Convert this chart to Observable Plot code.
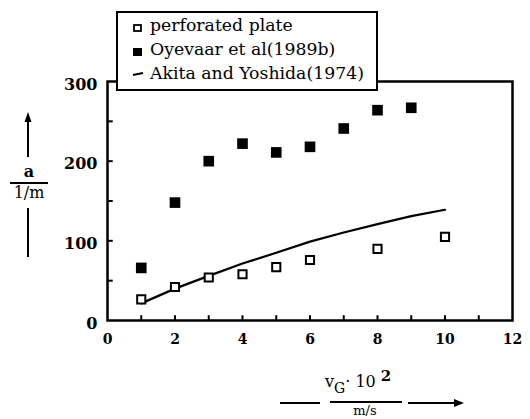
<!DOCTYPE html>
<html><head><meta charset="utf-8">
<script src="https://cdn.jsdelivr.net/npm/d3@7"></script>
<script src="https://cdn.jsdelivr.net/npm/@observablehq/plot@0.6"></script>
<style>
body{margin:0;background:#fff;}
#c{position:relative;width:530px;height:419px;}
</style></head><body><div id="c"></div>
<script>
const plateX = [1, 2, 3, 4, 5, 6, 8, 10];
const plateY = [26.5, 42, 54, 58, 67, 76, 90, 105];
const oyeX = [1, 2, 3, 4, 5, 6, 7, 8, 9];
const oyeY = [66, 148, 200, 222, 211, 218, 241, 264, 267];
const akitaX = [1, 2, 3, 4, 5, 6, 7, 8, 9, 10];
const akitaY = [21.5, 40, 56, 71.5, 85, 99, 110.5, 121, 131, 139];
const xTickLabels = [0, 2, 4, 6, 8, 10, 12];
const yTickLabels = [0, 100, 200, 300];
const xMinor = [1,2,3,4,5,6,7,8,9,10,11];
const yMinor = [50,100,150,200,250];
const legendLabels = ["perforated plate", "Oyevaar et al(1989b)", "Akita and Yoshida(1974)"];

const plate = plateX.map((x,i)=>({x, y: plateY[i]}));
const oye = oyeX.map((x,i)=>({x, y: oyeY[i]}));
const akita = akitaX.map((x,i)=>({x, y: akitaY[i]}));

const font = "DejaVu Serif, Liberation Serif, serif";
const chart = Plot.plot({
  width: 530, height: 419,
  marginLeft: 107, marginRight: 18, marginTop: 81, marginBottom: 99,
  style: {fontFamily: font, fontSize: "16px", fontWeight: "bold", background: "#fff", color: "#000"},
  x: {domain: [0, 12]},
  y: {domain: [0, 300]},
  marks: [
    Plot.ruleX(xMinor, {x: d => d, y1: 0, y2: 6, stroke: "#000", strokeWidth: 2}),
    Plot.ruleY(yMinor, {y: d => d, x1: 0, x2: 0.17, stroke: "#000", strokeWidth: 2}),
    Plot.axisX(xTickLabels, {tickSize: 0, tickPadding: 14, fontSize: 14, fontWeight: "bold"}),
    Plot.axisY(yTickLabels, {tickSize: 0, tickPadding: 10, fontSize: 16, fontWeight: "bold", dy: 3}),
    Plot.frame({stroke: "#000", strokeWidth: 2.5}),
    Plot.line(akita, {x: "x", y: "y", stroke: "#000", strokeWidth: 2.2}),
    Plot.dot(oye, {x: "x", y: "y", symbol: "square", r: 6, fill: "#000", stroke: "none"}),
    Plot.dot(plate, {x: "x", y: "y", symbol: "square", r: 4.6, fill: "#fff", stroke: "#000", strokeWidth: 2})
  ]
});
chart.querySelectorAll('[aria-label="x-axis label"],[aria-label="y-axis label"]').forEach(e=>e.remove());
document.getElementById("c").appendChild(chart);

const svg = d3.select(chart);
// legend
const lg = svg.append("g").attr("font-family", font).attr("font-size", 17.3).attr("font-weight", "normal").attr("text-anchor", "start");
lg.append("rect").attr("x", 117).attr("y", 12).attr("width", 260).attr("height", 78)
  .attr("fill", "#fff").attr("stroke", "#000").attr("stroke-width", 2);
const rows = [31, 55, 79];
lg.append("rect").attr("x", 134).attr("y", 25).attr("width", 7).attr("height", 6)
  .attr("fill", "#fff").attr("stroke", "#000").attr("stroke-width", 1.8);
lg.append("rect").attr("x", 133).attr("y", 48).attr("width", 9).attr("height", 8).attr("fill", "#000");
lg.append("line").attr("x1", 133).attr("x2", 143).attr("y1", 75).attr("y2", 73)
  .attr("stroke", "#000").attr("stroke-width", 2);
legendLabels.forEach((t,i)=>{
  lg.append("text").attr("x", 150).attr("y", rows[i]).text(t);
});

// y-axis label
const yl = svg.append("g").attr("font-family", font).attr("font-size", 16).attr("font-weight", "bold").attr("text-anchor", "middle");
yl.append("line").attr("x1", 28).attr("x2", 28).attr("y1", 157).attr("y2", 120).attr("stroke", "#000").attr("stroke-width", 2);
yl.append("path").attr("d", "M24.5,122 L28,112 L31.5,122 Z").attr("fill", "#000");
yl.append("text").attr("x", 29).attr("y", 177).text("a");
yl.append("line").attr("x1", 10).attr("x2", 48).attr("y1", 183).attr("y2", 183).attr("stroke", "#000").attr("stroke-width", 2);
yl.append("text").attr("x", 29).attr("y", 198).attr("font-weight", "normal").text("1/m");
yl.append("line").attr("x1", 28).attr("x2", 28).attr("y1", 208).attr("y2", 257).attr("stroke", "#000").attr("stroke-width", 2);

// x-axis label
const xl = svg.append("g").attr("font-family", font).attr("font-size", 16).attr("font-weight", "normal").attr("text-anchor", "start");
xl.append("line").attr("x1", 280).attr("x2", 320).attr("y1", 403).attr("y2", 403).attr("stroke", "#000").attr("stroke-width", 2);
xl.append("line").attr("x1", 330).attr("x2", 402).attr("y1", 402).attr("y2", 402).attr("stroke", "#000").attr("stroke-width", 2);
const num = xl.append("text").attr("x", 325).attr("y", 387);
num.append("tspan").text("v");
num.append("tspan").attr("font-size", 14).attr("dy", 6).text("G");
num.append("tspan").attr("dy", -6).text("\u00B7 10");
num.append("tspan").attr("font-size", 15).attr("font-weight", "bold").attr("dy", -6).attr("dx", 5).text("2");
xl.append("text").attr("x", 365).attr("y", 415).attr("text-anchor", "middle").attr("font-size", 13).text("m/s");
xl.append("line").attr("x1", 408).attr("x2", 456).attr("y1", 403).attr("y2", 403).attr("stroke", "#000").attr("stroke-width", 2);
xl.append("path").attr("d", "M454,399 L464,403 L454,407 Z").attr("fill", "#000");
</script></body></html>
